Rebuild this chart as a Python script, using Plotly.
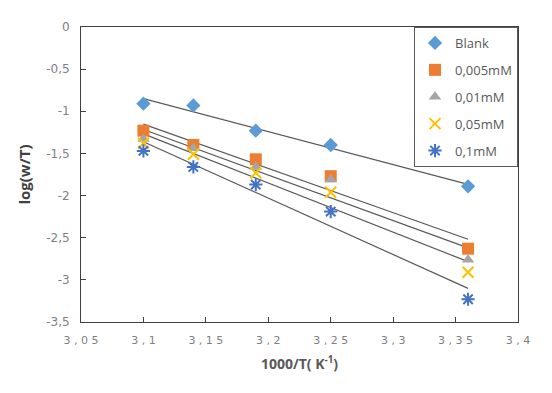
import numpy as np
import plotly.graph_objects as go

x_vals = [3.10, 3.14, 3.19, 3.25, 3.36]
series_names = ["Blank", "0,005mM", "0,01mM", "0,05mM", "0,1mM"]
blank = [-0.91, -0.93, -1.23, -1.40, -1.89]
c0005 = [-1.23, -1.40, -1.57, -1.77, -2.63]
c001 = [-1.33, -1.44, -1.66, -1.81, -2.76]
c005 = [-1.38, -1.51, -1.73, -1.96, -2.91]
c01 = [-1.47, -1.66, -1.87, -2.19, -3.23]

x_tickvals = [3.05, 3.1, 3.15, 3.2, 3.25, 3.3, 3.35, 3.4]
x_ticktext = ["3 , 0 5", "3 , 1", "3 , 1 5", "3 , 2", "3 , 2 5", "3 , 3", "3 , 3 5", "3 , 4"]
y_tickvals = [0, -0.5, -1, -1.5, -2, -2.5, -3, -3.5]
y_ticktext = ["0", "-0,5", "-1", "-1,5", "-2", "-2,5", "-3", "-3,5"]

data = [blank, c0005, c001, c005, c01]
styles = [
    dict(symbol="diamond", color="#5B9BD5", size=11),
    dict(symbol="square", color="#ED7D31", size=12),
    dict(symbol="triangle-up", color="#A5A5A5", size=11),
    dict(symbol="x-thin-open", color="#FFC000", size=11, line=dict(color="#FFC000", width=2)),
    dict(symbol="asterisk-open", color="#4472C4", size=11, line=dict(color="#4472C4", width=2)),
]

fig = go.Figure()
# trend lines
for ys in data:
    k, b = np.polyfit(x_vals, ys, 1)
    xs = [x_vals[0], x_vals[-1]]
    fig.add_trace(go.Scatter(x=xs, y=[k * v + b for v in xs], mode="lines",
                             line=dict(color="#595959", width=1.2),
                             showlegend=False, hoverinfo="skip"))
for i, (name, ys) in enumerate(zip(series_names, data)):
    fig.add_trace(go.Scatter(x=x_vals, y=ys, mode="markers", name=name,
                             marker=styles[i], legendgroup=name))

fig.update_layout(
    width=544, height=385,
    margin=dict(l=73, r=34, t=19, b=71, autoexpand=False),
    paper_bgcolor="white", plot_bgcolor="white",
    font=dict(family="Open Sans", size=12, color="#595959"),
    showlegend=True,
    legend=dict(x=1, y=1, xanchor="right", yanchor="top",
                bordercolor="#595959", borderwidth=1, bgcolor="white",
                font=dict(size=13, color="#595959"), tracegroupgap=7,
                itemwidth=30),
    xaxis=dict(range=[3.05, 3.4], tickvals=x_tickvals, ticktext=x_ticktext,
               automargin=False, ticklabelstandoff=8,
               showgrid=False, zeroline=False, showline=True, linecolor="#404040",
               linewidth=1, mirror=True, ticks="inside", ticklen=5, tickcolor="#404040",
               tickfont=dict(family="DejaVu Sans", size=11, color="#808080"),
               title=dict(text="<b>1000/T( K<sup>-1</sup>)</b>", font=dict(size=14, color="#595959"), standoff=12)),
    yaxis=dict(range=[-3.5, 0], tickvals=y_tickvals, ticktext=y_ticktext,
               automargin=False, ticklabelstandoff=8,
               showgrid=False, zeroline=False, showline=True, linecolor="#404040",
               linewidth=1, mirror=True, ticks="inside", ticklen=5, tickcolor="#404040",
               tickfont=dict(family="DejaVu Sans", size=12, color="#808080"),
               title=dict(text="<b>log(w/T)</b>", font=dict(size=15, color="#404040"), standoff=11)),
)
fig.write_html("out.html")
